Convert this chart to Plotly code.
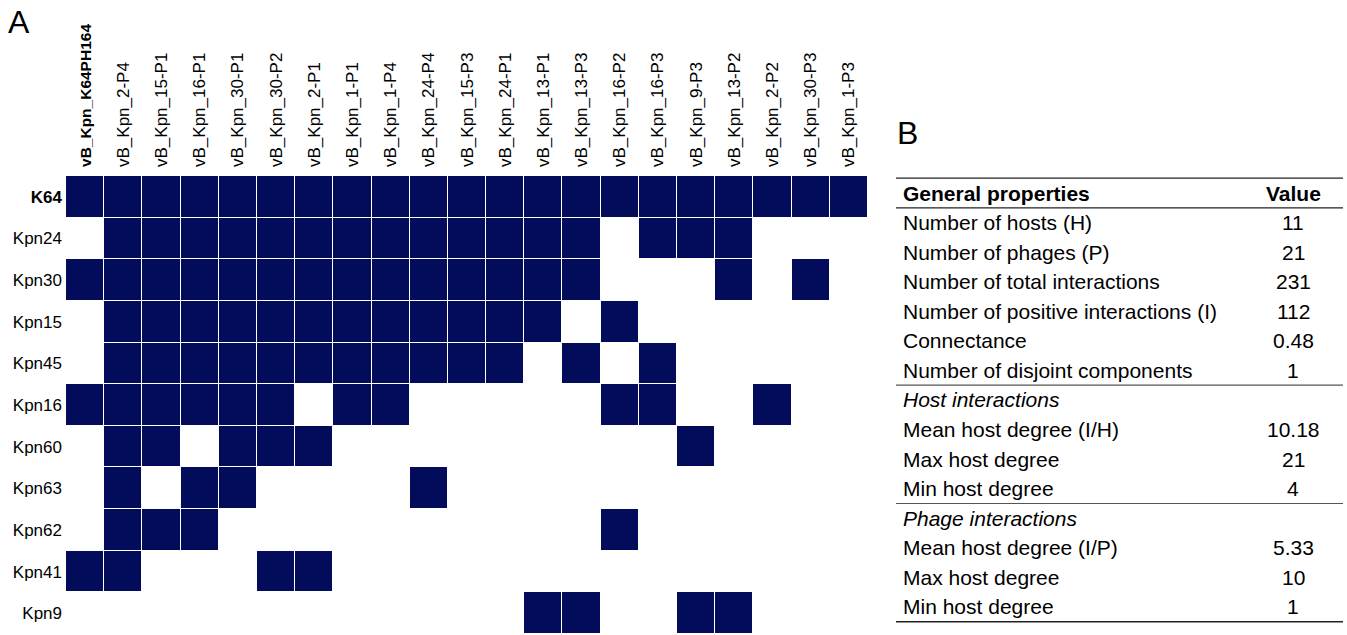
import plotly.graph_objects as go

# ---- Panel A: phage–host infection matrix ----
phages = [
    "vB_Kpn_K64PH164", "vB_Kpn_2-P4", "vB_Kpn_15-P1", "vB_Kpn_16-P1", "vB_Kpn_30-P1",
    "vB_Kpn_30-P2", "vB_Kpn_2-P1", "vB_Kpn_1-P1", "vB_Kpn_1-P4", "vB_Kpn_24-P4",
    "vB_Kpn_15-P3", "vB_Kpn_24-P1", "vB_Kpn_13-P1", "vB_Kpn_13-P3", "vB_Kpn_16-P2",
    "vB_Kpn_16-P3", "vB_Kpn_9-P3", "vB_Kpn_13-P2", "vB_Kpn_2-P2", "vB_Kpn_30-P3",
    "vB_Kpn_1-P3",
]
hosts = ["K64", "Kpn24", "Kpn30", "Kpn15", "Kpn45", "Kpn16",
         "Kpn60", "Kpn63", "Kpn62", "Kpn41", "Kpn9"]

# 1 = lysis (positive interaction), 0 = no infection
k64   = [1,1,1,1,1,1,1,1,1,1,1,1,1,1,1,1,1,1,1,1,1]
kpn24 = [0,1,1,1,1,1,1,1,1,1,1,1,1,1,0,1,1,1,0,0,0]
kpn30 = [1,1,1,1,1,1,1,1,1,1,1,1,1,1,0,0,0,1,0,1,0]
kpn15 = [0,1,1,1,1,1,1,1,1,1,1,1,1,0,1,0,0,0,0,0,0]
kpn45 = [0,1,1,1,1,1,1,1,1,1,1,1,0,1,0,1,0,0,0,0,0]
kpn16 = [1,1,1,1,1,1,0,1,1,0,0,0,0,0,1,1,0,0,1,0,0]
kpn60 = [0,1,1,0,1,1,1,0,0,0,0,0,0,0,0,0,1,0,0,0,0]
kpn63 = [0,1,0,1,1,0,0,0,0,1,0,0,0,0,0,0,0,0,0,0,0]
kpn62 = [0,1,1,1,0,0,0,0,0,0,0,0,0,0,1,0,0,0,0,0,0]
kpn41 = [1,1,0,0,0,1,1,0,0,0,0,0,0,0,0,0,0,0,0,0,0]
kpn9  = [0,0,0,0,0,0,0,0,0,0,0,0,1,1,0,0,1,1,0,0,0]
matrix = [k64, kpn24, kpn30, kpn15, kpn45, kpn16, kpn60, kpn63, kpn62, kpn41, kpn9]

# ---- Panel B: network properties table ----
table_labels = [
    "General properties",
    "Number of hosts (H)", "Number of phages (P)", "Number of total interactions",
    "Number of positive interactions (I)", "Connectance", "Number of disjoint components",
    "Host interactions",
    "Mean host degree (I/H)", "Max host degree", "Min host degree",
    "Phage interactions",
    "Mean host degree (I/P)", "Max host degree", "Min host degree",
]
table_values = ["Value", "11", "21", "231", "112", "0.48", "1",
                "", "10.18", "21", "4", "", "5.33", "10", "1"]
row_kinds = ["header", "row", "row", "row", "row", "row", "row",
             "section", "row", "row", "row", "section", "row", "row", "row"]

W, H = 1347, 635
FONT = "Arial, 'Liberation Sans', Helvetica, sans-serif"
NAVY = "#030c5b"


def px(x):
    return x / W


def py(y):
    return 1 - y / H


fig = go.Figure()

fig.add_trace(go.Heatmap(
    z=matrix,
    x=list(range(len(phages))),
    y=list(range(len(hosts))),
    zmin=0, zmax=1,
    colorscale=[[0, "white"], [1, NAVY]],
    showscale=False,
    xgap=1, ygap=1,
    hoverinfo="skip",
))

col_text = [f'<b><span style="font-size:15.5px">{p}</span></b>' if i == 0 else p
            for i, p in enumerate(phages)]
row_text = [f"<b>{h}</b>" if i == 0 else h for i, h in enumerate(hosts)]

fig.update_xaxes(
    domain=[px(66), px(868)],
    side="top",
    tickmode="array",
    tickvals=list(range(len(phages))),
    ticktext=col_text,
    tickangle=-90,
    ticks="",
    ticklabelstandoff=8,
    tickfont=dict(family=FONT, size=17, color="black"),
    showgrid=False, zeroline=False, showline=False,
    range=[-0.5, len(phages) - 0.5],
)
fig.update_yaxes(
    domain=[py(634), py(176)],
    tickmode="array",
    tickvals=list(range(len(hosts))),
    ticktext=row_text,
    ticks="",
    ticklabelstandoff=3,
    tickfont=dict(family=FONT, size=17, color="black"),
    showgrid=False, zeroline=False, showline=False,
    range=[len(hosts) - 0.5, -0.5],
)

annotations = []
shapes = []

# panel letters
annotations.append(dict(text="A", x=px(6), y=py(2), xref="paper", yref="paper",
                        xanchor="left", yanchor="top", showarrow=False,
                        font=dict(family=FONT, size=32, color="black")))
annotations.append(dict(text="B", x=px(895), y=py(113), xref="paper", yref="paper",
                        xanchor="left", yanchor="top", showarrow=False,
                        font=dict(family=FONT, size=32, color="black")))

# table layout
t_left, t_right = 896, 1343
label_x, value_x = 901, 1293
first_row_y, pitch = 193, 29.57

for i, (lab, val, kind) in enumerate(zip(table_labels, table_values, row_kinds)):
    yc = first_row_y + i * pitch
    if kind == "header":
        lab_txt, val_txt = f"<b>{lab}</b>", f"<b>{val}</b>"
    elif kind == "section":
        lab_txt, val_txt = f"<i>{lab}</i>", val
    else:
        lab_txt, val_txt = lab, val
    annotations.append(dict(text=lab_txt, x=px(label_x), y=py(yc), xref="paper", yref="paper",
                            xanchor="left", yanchor="middle", showarrow=False,
                            font=dict(family=FONT, size=21, color="black")))
    if val_txt:
        annotations.append(dict(text=val_txt, x=px(value_x), y=py(yc), xref="paper", yref="paper",
                                xanchor="center", yanchor="middle", showarrow=False,
                                font=dict(family=FONT, size=21, color="black")))

# horizontal rules: top, under header, before each section, bottom
rule_rows = [(-0.5, "#222", 1.3), (0.5, "#222", 1.3), (6.5, "#555", 1.2),
             (10.5, "#555", 1.2), (14.5, "#222", 1.3)]
for r, c, w in rule_rows:
    yl = first_row_y + r * pitch
    shapes.append(dict(type="line", xref="paper", yref="paper",
                       x0=px(t_left), x1=px(t_right), y0=py(yl), y1=py(yl),
                       line=dict(color=c, width=w)))

fig.update_layout(
    width=W, height=H,
    margin=dict(l=0, r=0, t=0, b=0),
    paper_bgcolor="white",
    plot_bgcolor="white",
    annotations=annotations,
    shapes=shapes,
    font=dict(family=FONT, color="black"),
)

fig.write_html("out.html")
